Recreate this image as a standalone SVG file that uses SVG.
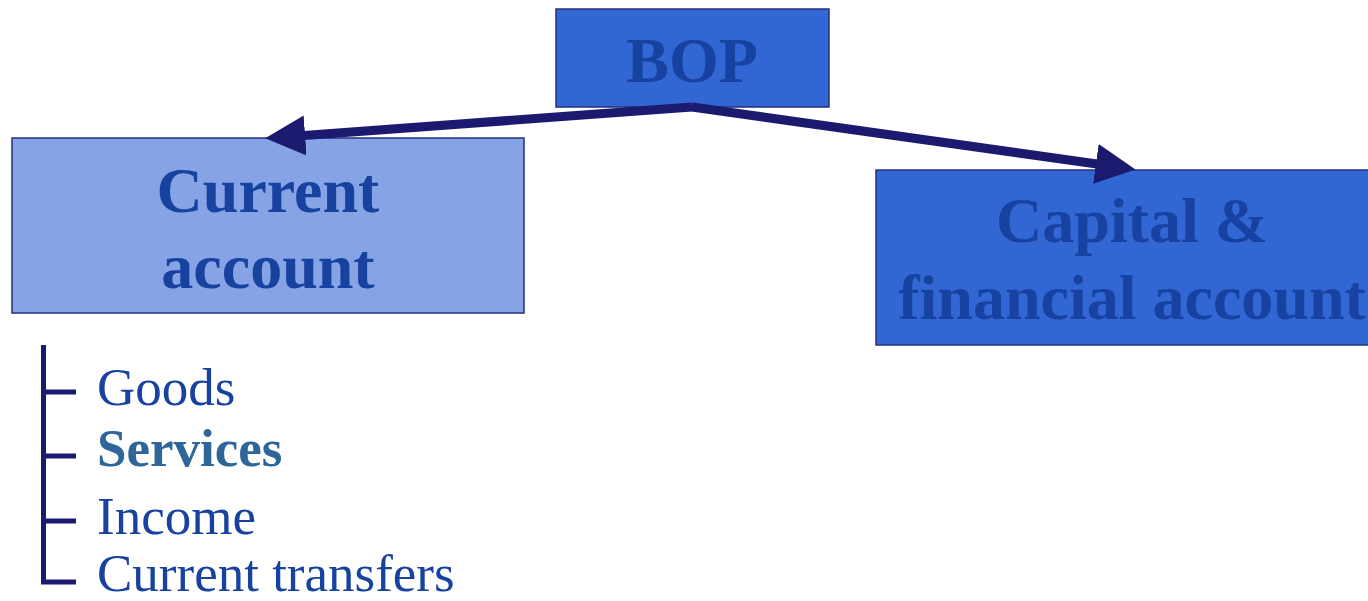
<svg xmlns="http://www.w3.org/2000/svg" width="1368" height="601" viewBox="0 0 1368 601">
<style>
.box{stroke:#26307F;stroke-width:1.5}
.dark{fill:#3166D3}
.light{fill:#86A3E6}
.t{font-family:"Liberation Serif","Times New Roman",serif;font-weight:bold;font-size:64px;fill:#1742A0;text-anchor:middle}
.item{font-family:"Liberation Serif","Times New Roman",serif;font-size:53px;fill:#1742A0}
.conn{stroke:#1C1A6E;stroke-width:9;fill:none}
.br{stroke:#1C1A6E;stroke-width:5;fill:none}
</style>
<defs>
<marker id="ah" markerUnits="userSpaceOnUse" markerWidth="40" markerHeight="40" viewBox="0 0 36 36" refX="1" refY="18" orient="auto">
<path d="M0,0 L36,18 L0,36 z" fill="#1C1A6E"/>
</marker>
</defs>
<rect width="1368" height="601" fill="#FFFFFF"/>
<g id="bop">
<rect class="box dark" x="556" y="9" width="273" height="98"/>
<text class="t" x="692" y="82">BOP</text>
</g>
<g id="current">
<rect class="box light" x="12" y="138" width="512" height="175"/>
<text class="t" x="268" y="212">Current</text>
<text class="t" x="268" y="288">account</text>
</g>
<g id="capital">
<rect class="box dark" x="876" y="170" width="512" height="175"/>
<text class="t" x="1132" y="242">Capital &amp;</text>
<text class="t" x="1132" y="319">financial account</text>
</g>
<g id="items">
<path class="br" d="M43.5,345 V582 M43.5,392 H76 M43.5,456 H76 M43.5,521 H76 M41,582 H76"/>
<text class="item" x="97" y="405">Goods</text>
<text class="item" x="97" y="466" style="font-weight:bold;fill:#2E6699">Services</text>
<text class="item" x="97" y="534">Income</text>
<text class="item" x="97" y="591">Current transfers</text>
</g>
<g id="connectors">
<line class="conn" x1="692" y1="107" x2="304" y2="135.5" marker-end="url(#ah)"/>
<line class="conn" x1="692" y1="107" x2="1097" y2="164" marker-end="url(#ah)"/>
</g>
</svg>
